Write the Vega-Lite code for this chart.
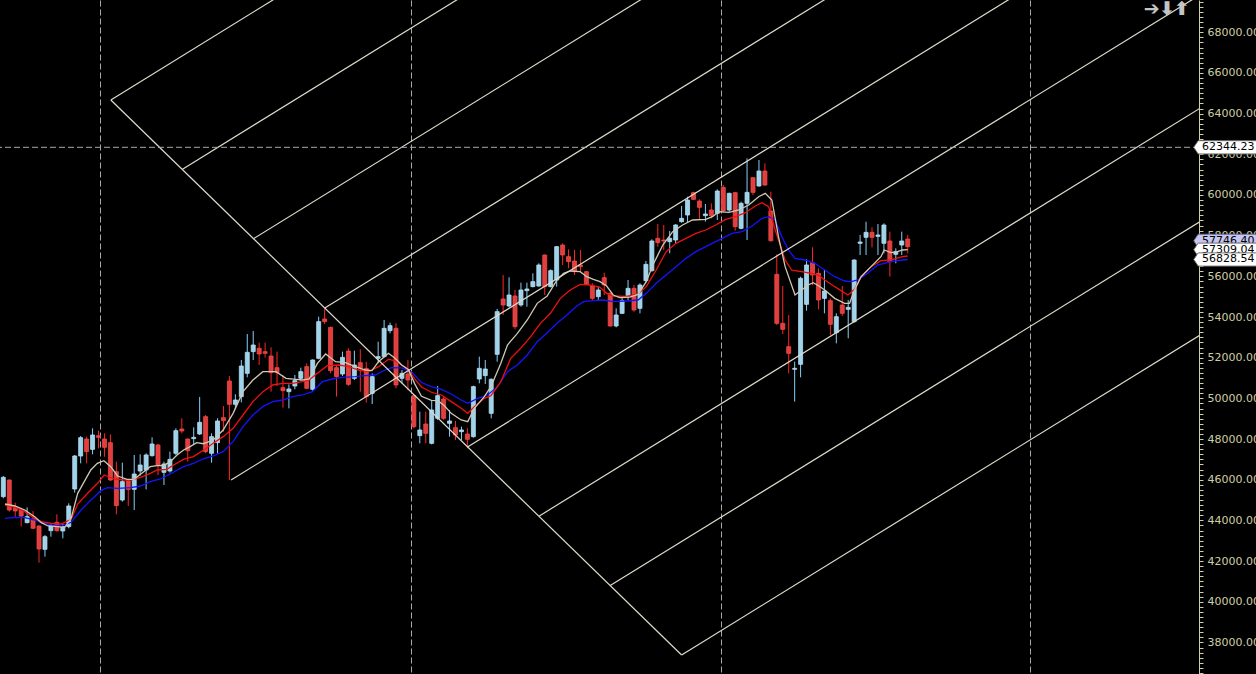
{
  "$schema": "https://vega.github.io/schema/vega-lite/v6.json",
  "width": 1199,
  "height": 674,
  "autosize": {"type": "none"},
  "padding": {"left": 0, "top": 0, "right": 57, "bottom": 0},
  "background": "#000000",
  "config": {
    "view": {"stroke": null},
    "axis": {"labelColor": "#cfcfa6", "tickColor": "#cfcfa6", "domainColor": "#cfcfa6", "labelFont": "DejaVu Sans", "labelFontSize": 11, "titleColor": "#cfcfa6"}
  },
  "resolve": {"axis": {"x": "independent", "y": "independent"}},
  "datasets": {
    "candles": [
      {"i":-1,"o":45167,"h":46183,"l":45085,"c":46118},
      {"i":0,"o":45986,"h":46019,"l":44429,"c":44511},
      {"i":1,"o":44593,"h":44872,"l":44183,"c":44462},
      {"i":2,"o":44511,"h":44540,"l":43692,"c":44216},
      {"i":3,"o":43888,"h":44642,"l":43856,"c":44183},
      {"i":4,"o":44069,"h":44462,"l":43577,"c":43610},
      {"i":5,"o":43725,"h":43760,"l":41922,"c":42594},
      {"i":6,"o":42577,"h":43282,"l":42217,"c":43200},
      {"i":7,"o":43495,"h":43856,"l":43200,"c":43725},
      {"i":8,"o":43905,"h":44298,"l":43446,"c":43495},
      {"i":9,"o":43479,"h":43856,"l":43118,"c":43692},
      {"i":10,"o":43692,"h":44839,"l":43610,"c":44708},
      {"i":11,"o":45544,"h":47216,"l":45364,"c":47166},
      {"i":12,"o":47166,"h":48150,"l":46806,"c":48068},
      {"i":13,"o":48002,"h":48117,"l":46806,"c":47380},
      {"i":14,"o":47494,"h":48527,"l":47248,"c":48199},
      {"i":15,"o":48166,"h":48412,"l":47543,"c":48084},
      {"i":16,"o":48002,"h":48281,"l":47134,"c":47593},
      {"i":17,"o":47822,"h":48232,"l":45937,"c":45986},
      {"i":18,"o":46396,"h":46888,"l":44298,"c":44724},
      {"i":19,"o":45003,"h":46839,"l":44921,"c":45904},
      {"i":20,"o":45937,"h":45986,"l":44708,"c":45527},
      {"i":21,"o":45527,"h":47216,"l":44511,"c":46281},
      {"i":22,"o":46429,"h":47248,"l":46199,"c":46724},
      {"i":23,"o":46478,"h":47298,"l":45527,"c":47216},
      {"i":24,"o":47183,"h":48084,"l":47134,"c":47757},
      {"i":25,"o":47707,"h":47757,"l":46232,"c":46724},
      {"i":26,"o":46363,"h":46888,"l":45741,"c":46773},
      {"i":27,"o":46429,"h":47380,"l":46347,"c":47003},
      {"i":28,"o":47298,"h":48527,"l":47216,"c":48412},
      {"i":29,"o":48494,"h":49019,"l":48281,"c":48396},
      {"i":30,"o":48002,"h":48030,"l":46888,"c":47429},
      {"i":31,"o":48019,"h":48576,"l":47707,"c":48084},
      {"i":32,"o":48248,"h":50070,"l":48199,"c":48822},
      {"i":33,"o":49100,"h":49182,"l":47298,"c":47380},
      {"i":34,"o":47298,"h":48281,"l":46839,"c":48117},
      {"i":35,"o":47822,"h":49019,"l":47298,"c":48887},
      {"i":36,"o":49051,"h":49625,"l":48363,"c":48904},
      {"i":37,"o":50854,"h":51100,"l":45986,"c":49707},
      {"i":38,"o":49707,"h":50199,"l":49461,"c":49920},
      {"i":39,"o":50084,"h":51887,"l":49805,"c":51592},
      {"i":40,"o":51231,"h":53165,"l":51035,"c":52264},
      {"i":41,"o":52297,"h":53313,"l":51887,"c":52624},
      {"i":42,"o":52460,"h":52739,"l":51641,"c":52182},
      {"i":43,"o":52297,"h":52739,"l":52002,"c":52215},
      {"i":44,"o":52083,"h":52510,"l":50330,"c":51264},
      {"i":45,"o":51510,"h":52297,"l":50608,"c":51264},
      {"i":46,"o":50526,"h":51149,"l":49543,"c":50379},
      {"i":47,"o":50330,"h":50690,"l":49510,"c":50461},
      {"i":48,"o":50608,"h":51149,"l":50444,"c":50871},
      {"i":49,"o":50985,"h":51510,"l":50871,"c":51313},
      {"i":50,"o":51559,"h":51723,"l":50444,"c":50494},
      {"i":51,"o":50444,"h":51920,"l":50379,"c":51887},
      {"i":52,"o":51969,"h":54017,"l":51920,"c":53772},
      {"i":53,"o":53903,"h":54427,"l":53657,"c":53772},
      {"i":54,"o":53493,"h":53526,"l":51231,"c":51362},
      {"i":55,"o":51510,"h":51641,"l":50084,"c":51067},
      {"i":56,"o":51198,"h":52297,"l":51100,"c":52018},
      {"i":57,"o":52329,"h":52460,"l":50608,"c":50690},
      {"i":58,"o":50985,"h":52346,"l":50903,"c":51641},
      {"i":59,"o":51756,"h":52411,"l":50330,"c":51477},
      {"i":60,"o":51477,"h":51805,"l":49789,"c":50084},
      {"i":61,"o":50248,"h":51231,"l":49723,"c":51067},
      {"i":62,"o":51969,"h":52788,"l":51723,"c":52051},
      {"i":63,"o":52051,"h":53854,"l":52018,"c":53444},
      {"i":64,"o":53329,"h":53722,"l":53198,"c":53575},
      {"i":65,"o":53444,"h":53690,"l":50494,"c":50658},
      {"i":66,"o":50985,"h":51395,"l":50739,"c":51231},
      {"i":67,"o":51198,"h":51887,"l":50412,"c":50903},
      {"i":68,"o":50133,"h":50200,"l":48527,"c":48609},
      {"i":69,"o":48166,"h":49346,"l":47789,"c":48445},
      {"i":70,"o":48740,"h":49346,"l":47789,"c":48281},
      {"i":71,"o":47789,"h":49920,"l":47740,"c":49428},
      {"i":72,"o":49019,"h":50608,"l":48937,"c":50133},
      {"i":73,"o":49969,"h":50084,"l":48937,"c":49019},
      {"i":74,"o":48773,"h":49428,"l":48117,"c":48888},
      {"i":75,"o":48560,"h":48888,"l":47953,"c":48199},
      {"i":76,"o":48363,"h":48609,"l":47953,"c":48445},
      {"i":77,"o":48248,"h":48527,"l":47544,"c":47986},
      {"i":78,"o":48117,"h":50625,"l":48068,"c":50576},
      {"i":79,"o":50953,"h":52051,"l":50740,"c":51477},
      {"i":80,"o":51117,"h":51887,"l":50707,"c":51444},
      {"i":81,"o":49264,"h":50985,"l":49019,"c":50936},
      {"i":82,"o":52166,"h":54395,"l":51805,"c":54263},
      {"i":83,"o":54886,"h":56066,"l":54100,"c":54591},
      {"i":84,"o":54542,"h":55952,"l":54477,"c":55083},
      {"i":85,"o":55034,"h":55329,"l":53395,"c":53526},
      {"i":86,"o":54591,"h":55689,"l":54509,"c":55329},
      {"i":87,"o":55296,"h":55689,"l":54509,"c":55378},
      {"i":88,"o":55493,"h":56148,"l":55460,"c":55739},
      {"i":89,"o":55525,"h":56640,"l":55493,"c":56558},
      {"i":90,"o":57050,"h":57080,"l":55083,"c":55493},
      {"i":91,"o":55493,"h":56345,"l":55460,"c":56279},
      {"i":92,"o":55820,"h":57490,"l":55493,"c":57459},
      {"i":93,"o":57541,"h":57623,"l":56558,"c":57050},
      {"i":94,"o":56968,"h":57328,"l":56394,"c":56722},
      {"i":95,"o":56755,"h":57296,"l":56066,"c":56230},
      {"i":96,"o":56558,"h":57296,"l":56230,"c":56476},
      {"i":97,"o":56230,"h":56260,"l":55575,"c":55607},
      {"i":98,"o":55525,"h":55657,"l":54837,"c":54919},
      {"i":99,"o":55001,"h":55493,"l":54788,"c":55329},
      {"i":100,"o":55935,"h":56181,"l":55083,"c":55575},
      {"i":101,"o":55165,"h":55200,"l":53526,"c":53559},
      {"i":102,"o":53559,"h":54427,"l":53493,"c":54100},
      {"i":103,"o":54181,"h":55001,"l":54149,"c":54804},
      {"i":104,"o":55050,"h":55820,"l":54837,"c":55411},
      {"i":105,"o":55411,"h":55575,"l":54263,"c":54345},
      {"i":106,"o":54427,"h":55656,"l":54181,"c":55574},
      {"i":107,"o":55787,"h":56754,"l":55705,"c":56590},
      {"i":108,"o":56279,"h":57819,"l":56230,"c":57738},
      {"i":109,"o":57869,"h":58573,"l":57459,"c":57656},
      {"i":110,"o":57787,"h":58524,"l":57295,"c":57738},
      {"i":111,"o":57705,"h":58229,"l":57131,"c":57869},
      {"i":112,"o":57787,"h":58573,"l":57623,"c":58524},
      {"i":113,"o":58688,"h":59458,"l":58639,"c":58852},
      {"i":114,"o":59016,"h":59917,"l":58639,"c":59753},
      {"i":115,"o":60114,"h":60163,"l":59753,"c":59786},
      {"i":116,"o":59704,"h":59786,"l":58803,"c":59393},
      {"i":117,"o":58983,"h":59557,"l":58688,"c":59065},
      {"i":118,"o":59262,"h":59590,"l":58852,"c":58983},
      {"i":119,"o":59098,"h":60278,"l":58770,"c":60196},
      {"i":120,"o":60376,"h":60491,"l":59131,"c":59213},
      {"i":121,"o":59262,"h":60114,"l":59180,"c":60081},
      {"i":122,"o":60114,"h":60150,"l":58246,"c":58442},
      {"i":123,"o":58360,"h":59672,"l":58311,"c":59590},
      {"i":124,"o":59590,"h":61802,"l":57787,"c":60130},
      {"i":125,"o":60852,"h":60880,"l":59999,"c":60130},
      {"i":126,"o":60442,"h":61720,"l":60409,"c":61179},
      {"i":127,"o":61179,"h":61556,"l":60442,"c":60491},
      {"i":128,"o":59213,"h":60163,"l":57705,"c":57754},
      {"i":129,"o":56099,"h":57082,"l":53607,"c":53689},
      {"i":130,"o":53689,"h":55525,"l":53165,"c":53394},
      {"i":131,"o":52542,"h":54099,"l":51231,"c":52214},
      {"i":132,"o":51428,"h":51805,"l":49838,"c":51477},
      {"i":133,"o":51673,"h":55984,"l":51034,"c":55902},
      {"i":134,"o":54624,"h":56836,"l":54312,"c":56558},
      {"i":135,"o":56672,"h":57426,"l":55574,"c":56066},
      {"i":136,"o":56148,"h":56394,"l":54378,"c":54837},
      {"i":137,"o":54919,"h":56312,"l":54181,"c":55279},
      {"i":138,"o":54804,"h":54919,"l":53116,"c":53640},
      {"i":139,"o":53230,"h":54181,"l":52706,"c":54017},
      {"i":140,"o":54591,"h":55525,"l":54050,"c":54181},
      {"i":141,"o":54378,"h":54837,"l":52952,"c":54476},
      {"i":142,"o":53771,"h":56836,"l":53722,"c":56803},
      {"i":143,"o":57623,"h":58033,"l":57049,"c":57689},
      {"i":144,"o":57918,"h":58688,"l":57049,"c":58164},
      {"i":145,"o":58164,"h":58410,"l":57426,"c":57918},
      {"i":146,"o":57967,"h":58574,"l":57049,"c":58033},
      {"i":147,"o":57623,"h":58606,"l":57131,"c":58524},
      {"i":148,"o":57738,"h":58197,"l":55984,"c":56722},
      {"i":149,"o":57082,"h":57377,"l":56640,"c":57213},
      {"i":150,"o":57541,"h":58197,"l":57049,"c":57738},
      {"i":151,"o":57836,"h":58033,"l":57131,"c":57459}
    ],
    "ma": [
      {"ma":"slow","i":-0.72,"v":44101},{"ma":"slow","i":0.95,"v":44151},{"ma":"slow","i":2.62,"v":44134},{"ma":"slow","i":4.28,"v":44019},{"ma":"slow","i":5.39,"v":43888},{"ma":"slow","i":7.06,"v":43774},{"ma":"slow","i":8.73,"v":43724},{"ma":"slow","i":10.4,"v":43905},{"ma":"slow","i":12.06,"v":44511},{"ma":"slow","i":13.73,"v":45003},{"ma":"slow","i":15.4,"v":45462},{"ma":"slow","i":16.51,"v":45609},{"ma":"slow","i":18.17,"v":45577},{"ma":"slow","i":20.4,"v":45609},{"ma":"slow","i":22.06,"v":45691},{"ma":"slow","i":23.73,"v":45904},{"ma":"slow","i":25.4,"v":46036},{"ma":"slow","i":27.06,"v":46281},{"ma":"slow","i":29.28,"v":46642},{"ma":"slow","i":30.95,"v":46806},{"ma":"slow","i":32.62,"v":47030},{"ma":"slow","i":34.28,"v":47167},{"ma":"slow","i":35.95,"v":47380},{"ma":"slow","i":37.62,"v":47871},{"ma":"slow","i":39.28,"v":48609},{"ma":"slow","i":40.95,"v":49182},{"ma":"slow","i":42.62,"v":49592},{"ma":"slow","i":44.28,"v":49838},{"ma":"slow","i":45.95,"v":49920},{"ma":"slow","i":47.62,"v":50084},{"ma":"slow","i":49.28,"v":50166},{"ma":"slow","i":50.95,"v":50330},{"ma":"slow","i":52.62,"v":50821},{"ma":"slow","i":54.28,"v":50952},{"ma":"slow","i":55.95,"v":51035},{"ma":"slow","i":58.17,"v":51067},{"ma":"slow","i":59.84,"v":51117},{"ma":"slow","i":61.51,"v":51149},{"ma":"slow","i":63.17,"v":51395},{"ma":"slow","i":64.28,"v":51510},{"ma":"slow","i":65.95,"v":51500},{"ma":"slow","i":67.62,"v":51300},{"ma":"slow","i":69.28,"v":50780},{"ma":"slow","i":70.95,"v":50576},{"ma":"slow","i":72.62,"v":50445},{"ma":"slow","i":74.28,"v":50215},{"ma":"slow","i":75.95,"v":49920},{"ma":"slow","i":77.06,"v":49756},{"ma":"slow","i":78.73,"v":50002},{"ma":"slow","i":80.4,"v":50166},{"ma":"slow","i":82.06,"v":50576},{"ma":"slow","i":83.73,"v":51313},{"ma":"slow","i":85.4,"v":51641},{"ma":"slow","i":87.06,"v":52133},{"ma":"slow","i":88.73,"v":52788},{"ma":"slow","i":90.4,"v":53231},{"ma":"slow","i":92.06,"v":53690},{"ma":"slow","i":93.73,"v":54100},{"ma":"slow","i":95.4,"v":54542},{"ma":"slow","i":96.51,"v":54755},{"ma":"slow","i":98.17,"v":54804},{"ma":"slow","i":99.84,"v":54837},{"ma":"slow","i":101.51,"v":54755},{"ma":"slow","i":103.73,"v":54788},{"ma":"slow","i":105.68,"v":54837},{"ma":"slow","i":107.06,"v":55164},{"ma":"slow","i":108.73,"v":55656},{"ma":"slow","i":110.4,"v":56066},{"ma":"slow","i":112.06,"v":56476},{"ma":"slow","i":113.73,"v":56885},{"ma":"slow","i":115.4,"v":57213},{"ma":"slow","i":117.06,"v":57459},{"ma":"slow","i":118.73,"v":57705},{"ma":"slow","i":120.4,"v":57951},{"ma":"slow","i":121.51,"v":58115},{"ma":"slow","i":123.17,"v":58196},{"ma":"slow","i":124.84,"v":58475},{"ma":"slow","i":126.51,"v":58852},{"ma":"slow","i":127.62,"v":58934},{"ma":"slow","i":128.73,"v":58770},{"ma":"slow","i":129.84,"v":57951},{"ma":"slow","i":130.95,"v":57295},{"ma":"slow","i":132.06,"v":56885},{"ma":"slow","i":133.73,"v":56804},{"ma":"slow","i":135.4,"v":56640},{"ma":"slow","i":137.06,"v":56312},{"ma":"slow","i":138.73,"v":55984},{"ma":"slow","i":140.4,"v":55771},{"ma":"slow","i":141.51,"v":55738},{"ma":"slow","i":142.62,"v":55820},{"ma":"slow","i":144.28,"v":56148},{"ma":"slow","i":145.95,"v":56558},{"ma":"slow","i":148.17,"v":56722},{"ma":"slow","i":150.12,"v":56804},{"ma":"slow","i":151,"v":56828},
      {"ma":"mid","i":-0.72,"v":44757},{"ma":"mid","i":0.95,"v":44642},{"ma":"mid","i":2.62,"v":44429},{"ma":"mid","i":4.28,"v":44101},{"ma":"mid","i":5.39,"v":43938},{"ma":"mid","i":7.06,"v":43856},{"ma":"mid","i":8.73,"v":43823},{"ma":"mid","i":10.4,"v":44052},{"ma":"mid","i":11.5,"v":44806},{"ma":"mid","i":13.17,"v":45331},{"ma":"mid","i":14.84,"v":45823},{"ma":"mid","i":15.95,"v":46232},{"ma":"mid","i":17.62,"v":46036},{"ma":"mid","i":19.28,"v":45986},{"ma":"mid","i":20.4,"v":45986},{"ma":"mid","i":22.06,"v":46118},{"ma":"mid","i":23.73,"v":46314},{"ma":"mid","i":24.84,"v":46478},{"ma":"mid","i":26.5,"v":46511},{"ma":"mid","i":27.62,"v":46724},{"ma":"mid","i":29.28,"v":47003},{"ma":"mid","i":30.95,"v":47134},{"ma":"mid","i":32.62,"v":47450},{"ma":"mid","i":34.28,"v":47790},{"ma":"mid","i":35.95,"v":48117},{"ma":"mid","i":37.62,"v":48527},{"ma":"mid","i":39.28,"v":49182},{"ma":"mid","i":40.95,"v":49838},{"ma":"mid","i":42.62,"v":50330},{"ma":"mid","i":44.28,"v":50658},{"ma":"mid","i":45.95,"v":50740},{"ma":"mid","i":47.62,"v":50740},{"ma":"mid","i":49.28,"v":50821},{"ma":"mid","i":50.4,"v":50903},{"ma":"mid","i":51.79,"v":51231},{"ma":"mid","i":53.45,"v":51608},{"ma":"mid","i":55.4,"v":51641},{"ma":"mid","i":57.06,"v":51559},{"ma":"mid","i":58.73,"v":51395},{"ma":"mid","i":60.4,"v":51313},{"ma":"mid","i":62.06,"v":51559},{"ma":"mid","i":63.73,"v":51920},{"ma":"mid","i":64.84,"v":51854},{"ma":"mid","i":65.95,"v":51641},{"ma":"mid","i":67.06,"v":51410},{"ma":"mid","i":68.17,"v":50950},{"ma":"mid","i":69.28,"v":50560},{"ma":"mid","i":70.95,"v":50300},{"ma":"mid","i":72.62,"v":50166},{"ma":"mid","i":74.28,"v":49838},{"ma":"mid","i":75.95,"v":49510},{"ma":"mid","i":77.06,"v":49265},{"ma":"mid","i":78.17,"v":49592},{"ma":"mid","i":79.84,"v":50002},{"ma":"mid","i":80.95,"v":50133},{"ma":"mid","i":82.62,"v":50821},{"ma":"mid","i":84.28,"v":51969},{"ma":"mid","i":85.95,"v":52461},{"ma":"mid","i":87.62,"v":53034},{"ma":"mid","i":89.28,"v":53690},{"ma":"mid","i":90.95,"v":54182},{"ma":"mid","i":92.62,"v":54919},{"ma":"mid","i":94.28,"v":55329},{"ma":"mid","i":95.95,"v":55607},{"ma":"mid","i":97.62,"v":55575},{"ma":"mid","i":99.28,"v":55460},{"ma":"mid","i":100.4,"v":55165},{"ma":"mid","i":101.5,"v":55034},{"ma":"mid","i":103.7,"v":55010},{"ma":"mid","i":105.68,"v":55132},{"ma":"mid","i":107.06,"v":55492},{"ma":"mid","i":108.73,"v":56312},{"ma":"mid","i":110.4,"v":57213},{"ma":"mid","i":112.06,"v":57623},{"ma":"mid","i":113.73,"v":57869},{"ma":"mid","i":115.4,"v":58115},{"ma":"mid","i":117.06,"v":58278},{"ma":"mid","i":118.73,"v":58524},{"ma":"mid","i":120.4,"v":58803},{"ma":"mid","i":122.06,"v":58934},{"ma":"mid","i":123.73,"v":59131},{"ma":"mid","i":125.4,"v":59458},{"ma":"mid","i":126.51,"v":59622},{"ma":"mid","i":127.62,"v":59426},{"ma":"mid","i":128.73,"v":58278},{"ma":"mid","i":130.4,"v":56803},{"ma":"mid","i":131.51,"v":56300},{"ma":"mid","i":133.17,"v":56230},{"ma":"mid","i":134.84,"v":56140},{"ma":"mid","i":135.95,"v":56066},{"ma":"mid","i":137.06,"v":55820},{"ma":"mid","i":138.73,"v":55492},{"ma":"mid","i":140.95,"v":55083},{"ma":"mid","i":142.06,"v":55361},{"ma":"mid","i":143.17,"v":55984},{"ma":"mid","i":144.84,"v":56476},{"ma":"mid","i":146.5,"v":56771},{"ma":"mid","i":148.17,"v":56804},{"ma":"mid","i":150.12,"v":56967},{"ma":"mid","i":151,"v":57000},
      {"ma":"fast","i":-0.72,"v":44806},{"ma":"fast","i":0.95,"v":44708},{"ma":"fast","i":2.62,"v":44511},{"ma":"fast","i":4.28,"v":44183},{"ma":"fast","i":5.39,"v":43888},{"ma":"fast","i":6.51,"v":43725},{"ma":"fast","i":8.17,"v":43692},{"ma":"fast","i":9.28,"v":43643},{"ma":"fast","i":10.4,"v":44101},{"ma":"fast","i":11.5,"v":45331},{"ma":"fast","i":12.6,"v":45904},{"ma":"fast","i":13.7,"v":46478},{"ma":"fast","i":14.8,"v":46806},{"ma":"fast","i":15.9,"v":46937},{"ma":"fast","i":17.06,"v":46642},{"ma":"fast","i":18.2,"v":46183},{"ma":"fast","i":19.8,"v":46019},{"ma":"fast","i":20.95,"v":46019},{"ma":"fast","i":22.6,"v":46396},{"ma":"fast","i":23.7,"v":46642},{"ma":"fast","i":24.8,"v":46691},{"ma":"fast","i":25.95,"v":46691},{"ma":"fast","i":27.06,"v":46888},{"ma":"fast","i":28.2,"v":47216},{"ma":"fast","i":29.3,"v":47462},{"ma":"fast","i":30.4,"v":47625},{"ma":"fast","i":31.5,"v":47822},{"ma":"fast","i":32.62,"v":47770},{"ma":"fast","i":34.28,"v":47953},{"ma":"fast","i":35.95,"v":48445},{"ma":"fast","i":37.62,"v":49264},{"ma":"fast","i":39.28,"v":50330},{"ma":"fast","i":40.95,"v":50903},{"ma":"fast","i":42.62,"v":51313},{"ma":"fast","i":44.84,"v":51313},{"ma":"fast","i":46.51,"v":50985},{"ma":"fast","i":48.17,"v":50936},{"ma":"fast","i":49.29,"v":50903},{"ma":"fast","i":50.4,"v":50952},{"ma":"fast","i":51.79,"v":51723},{"ma":"fast","i":53.17,"v":52182},{"ma":"fast","i":54.84,"v":51805},{"ma":"fast","i":56.5,"v":51756},{"ma":"fast","i":58.17,"v":51559},{"ma":"fast","i":59.84,"v":51395},{"ma":"fast","i":60.95,"v":51362},{"ma":"fast","i":62.06,"v":51805},{"ma":"fast","i":63.73,"v":52214},{"ma":"fast","i":64.84,"v":51969},{"ma":"fast","i":65.95,"v":51641},{"ma":"fast","i":67.06,"v":51420},{"ma":"fast","i":68.17,"v":50700},{"ma":"fast","i":69.28,"v":50100},{"ma":"fast","i":70.95,"v":49900},{"ma":"fast","i":72.06,"v":49887},{"ma":"fast","i":73.17,"v":49625},{"ma":"fast","i":74.28,"v":49265},{"ma":"fast","i":75.95,"v":48937},{"ma":"fast","i":77.06,"v":48855},{"ma":"fast","i":78.17,"v":49510},{"ma":"fast","i":79.84,"v":50084},{"ma":"fast","i":80.95,"v":50576},{"ma":"fast","i":82.62,"v":51723},{"ma":"fast","i":83.73,"v":52624},{"ma":"fast","i":85.4,"v":53198},{"ma":"fast","i":87.06,"v":53854},{"ma":"fast","i":88.73,"v":54673},{"ma":"fast","i":90.4,"v":55034},{"ma":"fast","i":92.06,"v":55820},{"ma":"fast","i":93.17,"v":56148},{"ma":"fast","i":94.28,"v":56263},{"ma":"fast","i":95.95,"v":56230},{"ma":"fast","i":97.06,"v":55984},{"ma":"fast","i":98.17,"v":55853},{"ma":"fast","i":99.28,"v":55738},{"ma":"fast","i":100.4,"v":55525},{"ma":"fast","i":101.5,"v":55083},{"ma":"fast","i":102.6,"v":54950},{"ma":"fast","i":104.3,"v":54975},{"ma":"fast","i":105.68,"v":55115},{"ma":"fast","i":107.06,"v":55738},{"ma":"fast","i":108.17,"v":56557},{"ma":"fast","i":109.84,"v":57541},{"ma":"fast","i":111.5,"v":58196},{"ma":"fast","i":113.17,"v":58524},{"ma":"fast","i":114.84,"v":58770},{"ma":"fast","i":117.06,"v":58803},{"ma":"fast","i":118.17,"v":58934},{"ma":"fast","i":119.28,"v":59180},{"ma":"fast","i":120.95,"v":59147},{"ma":"fast","i":122.62,"v":59262},{"ma":"fast","i":124.28,"v":59508},{"ma":"fast","i":125.95,"v":59917},{"ma":"fast","i":127.06,"v":60081},{"ma":"fast","i":128.17,"v":59754},{"ma":"fast","i":129.28,"v":57950},{"ma":"fast","i":130.4,"v":56475},{"ma":"fast","i":132.06,"v":55083},{"ma":"fast","i":133.17,"v":55328},{"ma":"fast","i":134.28,"v":55574},{"ma":"fast","i":135.12,"v":55689},{"ma":"fast","i":135.95,"v":55550},{"ma":"fast","i":137.06,"v":55328},{"ma":"fast","i":138.73,"v":54919},{"ma":"fast","i":140.4,"v":54673},{"ma":"fast","i":141.23,"v":54673},{"ma":"fast","i":142.06,"v":55328},{"ma":"fast","i":143.17,"v":55984},{"ma":"fast","i":144.84,"v":56476},{"ma":"fast","i":146.5,"v":56967},{"ma":"fast","i":147.06,"v":57295},{"ma":"fast","i":148.17,"v":57164},{"ma":"fast","i":149.28,"v":57213},{"ma":"fast","i":150.12,"v":57295},{"ma":"fast","i":151,"v":57309}
    ],
    "gann": [
      {"ln":"d","i":17.07,"v":64671},{"ln":"d","i":113.0,"v":37382},
      {"ln":"g0","i":17.07,"v":64671},{"ln":"g0","i":205,"v":98602},
      {"ln":"g1","i":29.05,"v":61259},{"ln":"g1","i":205,"v":93027},
      {"ln":"g2","i":41.05,"v":57851},{"ln":"g2","i":205,"v":87452},
      {"ln":"g3","i":53.03,"v":54439},{"ln":"g3","i":205,"v":81877},
      {"ln":"g4","i":37.28,"v":45986},{"ln":"g4","i":205,"v":76298},
      {"ln":"g5","i":77.02,"v":47614},{"ln":"g5","i":205,"v":70721},
      {"ln":"g6","i":89.02,"v":44206},{"ln":"g6","i":205,"v":65146},
      {"ln":"g7","i":101.0,"v":40794},{"ln":"g7","i":205,"v":59571},
      {"ln":"g8","i":113.0,"v":37382},{"ln":"g8","i":205,"v":53993}
    ],
    "tags": [
      {"k":"bid","v":57746.4,"t":"57746.40"},
      {"k":"fast","v":57309.04,"t":"57309.04"},
      {"k":"slow","v":56828.54,"t":"56828.54"},
      {"k":"cross","v":62344.23,"t":"62344.23"}
    ]
  },
  "layer": [
    {
      "data": {"name": "candles"},
      "mark": {"type": "rule", "strokeWidth": 1, "clip": true},
      "encoding": {
        "x": {
          "field": "i", "type": "quantitative",
          "scale": {"domain": [-0.717, 199.117], "nice": false, "zero": false},
          "axis": {"values": [15.23, 67.5, 119.56, 171.6], "grid": true, "gridColor": "#a8a8a8", "gridDash": [6, 3], "gridWidth": 1, "labels": false, "ticks": false, "domain": false, "title": null}
        },
        "y": {
          "field": "l", "type": "quantitative",
          "scale": {"domain": [36447, 69588], "nice": false, "zero": false},
          "axis": {
            "orient": "right", "title": null, "grid": false,
            "values": [36500,36750,37000,37250,37500,37750,38000,38250,38500,38750,39000,39250,39500,39750,40000,40250,40500,40750,41000,41250,41500,41750,42000,42250,42500,42750,43000,43250,43500,43750,44000,44250,44500,44750,45000,45250,45500,45750,46000,46250,46500,46750,47000,47250,47500,47750,48000,48250,48500,48750,49000,49250,49500,49750,50000,50250,50500,50750,51000,51250,51500,51750,52000,52250,52500,52750,53000,53250,53500,53750,54000,54250,54500,54750,55000,55250,55500,55750,56000,56250,56500,56750,57000,57250,57500,57750,58000,58250,58500,58750,59000,59250,59500,59750,60000,60250,60500,60750,61000,61250,61500,61750,62000,62250,62500,62750,63000,63250,63500,63750,64000,64250,64500,64750,65000,65250,65500,65750,66000,66250,66500,66750,67000,67250,67500,67750,68000,68250,68500,68750,69000,69250,69500],
            "labelExpr": "datum.value % 2000 === 0 ? format(datum.value, '.2f') : ''",
            "labelOverlap": false, "labelBound": false, "labelFlush": false,
            "labelFont": "DejaVu Sans", "labelFontSize": 11, "labelColor": "#cfcfa6",
            "labelPadding": 4,
            "domainColor": "#cfcfa6", "domainWidth": 1,
            "tickColor": "#cfcfa6", "tickWidth": 1, "tickSize": 4
          }
        },
        "y2": {"field": "h"},
        "color": {"condition": {"test": "datum.c >= datum.o", "value": "#87cefa"}, "value": "#ff2424"}
      }
    },
    {
      "data": {"name": "candles"},
      "mark": {"type": "bar", "width": 4, "strokeWidth": 0.8, "clip": true},
      "encoding": {
        "x": {"field": "i", "type": "quantitative", "axis": null},
        "y": {"field": "o", "type": "quantitative", "axis": null},
        "y2": {"field": "c"},
        "fill": {"condition": {"test": "datum.c >= datum.o", "value": "#9fd3ec"}, "value": "#e23e3e"},
        "stroke": {"condition": {"test": "datum.c >= datum.o", "value": "#b4def2"}, "value": "#f04a4a"}
      }
    },
    {
      "data": {"name": "ma"},
      "mark": {"type": "line", "strokeWidth": 1.3, "clip": true},
      "encoding": {
        "x": {"field": "i", "type": "quantitative", "axis": null},
        "y": {"field": "v", "type": "quantitative", "axis": null},
        "color": {"field": "ma", "type": "nominal", "legend": null, "scale": {"domain": ["slow", "mid", "fast"], "range": ["#1414ff", "#f01010", "#cfc8b4"]}}
      }
    },
    {
      "data": {"name": "gann"},
      "mark": {"type": "line", "strokeWidth": 1.2, "color": "#dedbcc", "clip": true},
      "encoding": {
        "x": {"field": "i", "type": "quantitative", "axis": null},
        "y": {"field": "v", "type": "quantitative", "axis": null},
        "detail": {"field": "ln", "type": "nominal"}
      }
    },
    {
      "data": {"values": [{}]},
      "mark": {"type": "rule", "color": "#a8a8a8", "strokeDash": [6, 3], "strokeWidth": 1},
      "encoding": {"y": {"datum": 62344.23, "type": "quantitative", "axis": null}}
    },
    {
      "data": {"name": "tags"},
      "transform": [{"filter": "datum.k === 'bid'"}],
      "layer": [
        {
          "mark": {"type": "point", "shape": "M-1,0L-0.86,-0.21L1,-0.21L1,0.21L-0.86,0.21Z", "size": 3969, "filled": true, "fill": "#c6c6f2", "stroke": "#6a6a8a", "strokeWidth": 1, "opacity": 1},
          "encoding": {"x": {"datum": 204.37, "type": "quantitative", "axis": null}, "y": {"field": "v", "type": "quantitative", "axis": null}}
        },
        {
          "mark": {"type": "text", "align": "left", "baseline": "middle", "font": "DejaVu Sans", "fontSize": 11, "color": "#000000"},
          "encoding": {"x": {"datum": 200.45, "type": "quantitative", "axis": null}, "y": {"field": "v", "type": "quantitative", "axis": null}, "text": {"field": "t"}}
        }
      ]
    },
    {
      "data": {"name": "tags"},
      "transform": [{"filter": "datum.k === 'fast'"}],
      "layer": [
        {
          "mark": {"type": "point", "shape": "M-1,0L-0.86,-0.21L1,-0.21L1,0.21L-0.86,0.21Z", "size": 3969, "filled": true, "fill": "#ffffff", "stroke": "#707070", "strokeWidth": 1, "opacity": 1},
          "encoding": {"x": {"datum": 204.37, "type": "quantitative", "axis": null}, "y": {"field": "v", "type": "quantitative", "axis": null}}
        },
        {
          "mark": {"type": "text", "align": "left", "baseline": "middle", "font": "DejaVu Sans", "fontSize": 11, "color": "#000000"},
          "encoding": {"x": {"datum": 200.45, "type": "quantitative", "axis": null}, "y": {"field": "v", "type": "quantitative", "axis": null}, "text": {"field": "t"}}
        }
      ]
    },
    {
      "data": {"name": "tags"},
      "transform": [{"filter": "datum.k === 'slow' || datum.k === 'cross'"}],
      "layer": [
        {
          "mark": {"type": "point", "shape": "M-1,0L-0.86,-0.21L1,-0.21L1,0.21L-0.86,0.21Z", "size": 3969, "filled": true, "fill": "#ffffff", "stroke": "#707070", "strokeWidth": 1, "opacity": 1},
          "encoding": {"x": {"datum": 204.37, "type": "quantitative", "axis": null}, "y": {"field": "v", "type": "quantitative", "axis": null}}
        },
        {
          "mark": {"type": "text", "align": "left", "baseline": "middle", "font": "DejaVu Sans", "fontSize": 11, "color": "#000000"},
          "encoding": {"x": {"datum": 200.45, "type": "quantitative", "axis": null}, "y": {"field": "v", "type": "quantitative", "axis": null}, "text": {"field": "t"}}
        }
      ]
    },
    {
      "data": {"values": [{}]},
      "mark": {"type": "text", "align": "center", "baseline": "middle", "font": "DejaVu Sans", "fontSize": 19, "fontWeight": "bold", "color": "#c4c4c4"},
      "encoding": {
        "x": {"datum": 192.0, "type": "quantitative", "axis": null},
        "y": {"datum": 69146, "type": "quantitative", "axis": null},
        "text": {"value": "➔"}
      }
    },
    {
      "data": {"values": [{}]},
      "mark": {"type": "text", "align": "center", "baseline": "middle", "font": "DejaVu Sans", "fontSize": 19, "fontWeight": "bold", "color": "#c4c4c4"},
      "encoding": {
        "x": {"datum": 194.6, "type": "quantitative", "axis": null},
        "y": {"datum": 69146, "type": "quantitative", "axis": null},
        "text": {"value": "⬇"}
      }
    },
    {
      "data": {"values": [{}]},
      "mark": {"type": "text", "align": "center", "baseline": "middle", "font": "DejaVu Sans", "fontSize": 19, "fontWeight": "bold", "color": "#c4c4c4"},
      "encoding": {
        "x": {"datum": 197.1, "type": "quantitative", "axis": null},
        "y": {"datum": 69146, "type": "quantitative", "axis": null},
        "text": {"value": "⬆"}
      }
    }
  ]
}
